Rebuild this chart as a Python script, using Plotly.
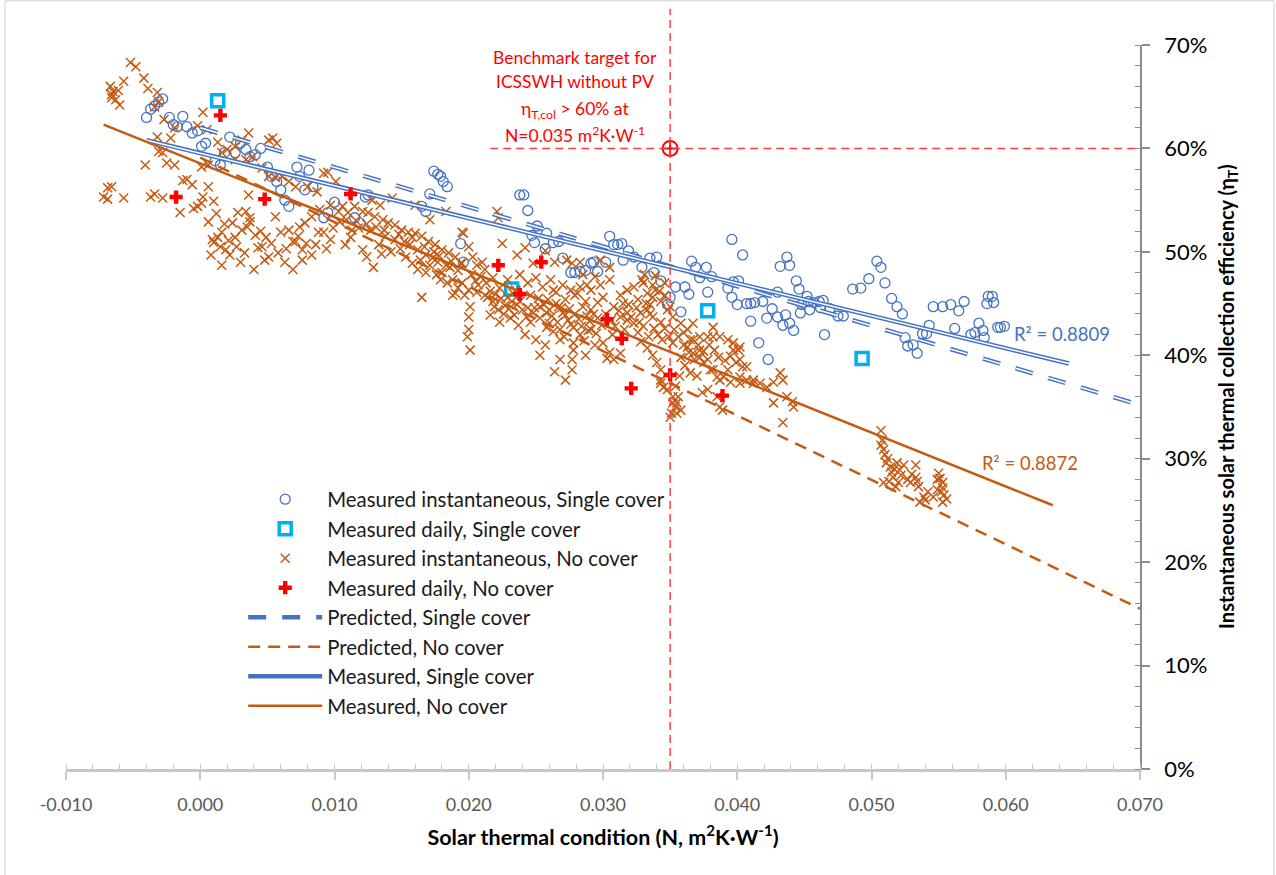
import plotly.graph_objects as go

BLUE = "#4472C4"
ORANGE = "#C55A11"
CYAN = "#00B0F0"
RED = "#FF0000"
FONT = "Lato"

# ---------------- data ----------------
# Measured instantaneous, Single cover  (N [m2K/W], efficiency)
inst_single = [
    (-0.0040, .630), (-0.0037, .638), (-0.0034, .641), (-0.0031, .645), (-0.0028, .648),
    (-0.0023, .630), (-0.0020, .623), (-0.0017, .621), (-0.0013, .631), (-0.0010, .621),
    (-0.0006, .615), (-0.0002, .617), (0.0001, .602), (0.0004, .605), (0.0011, .588),
    (0.0015, .584), (0.0018, .596), (0.0022, .611), (0.0026, .596), (0.0030, .605),
    (0.0034, .599), (0.0037, .592), (0.0041, .594), (0.0045, .600), (0.0050, .582),
    (0.0053, .573), (0.0057, .568), (0.0060, .560), (0.0063, .550), (0.0066, .544),
    (0.0072, .582), (0.0074, .573), (0.0078, .560), (0.0081, .579), (0.0084, .563),
    (0.0092, .533), (0.0095, .538), (0.0100, .548), (0.0115, .533), (0.0119, .528),
    (0.0123, .553), (0.0125, .555), (0.0165, .544), (0.0168, .539), (0.0171, .556),
    (0.0174, .578), (0.0177, .575), (0.0179, .573), (0.0181, .568), (0.0184, .563),
    (0.0194, .508), (0.0196, .490), (0.0238, .555), (0.0241, .555), (0.0244, .540),
    (0.0251, .525), (0.0247, .516), (0.0249, .509), (0.0258, .518), (0.0263, .509),
    (0.0257, .503), (0.0267, .510), (0.0270, .494), (0.0276, .480), (0.0279, .480),
    (0.0283, .481), (0.0287, .482), (0.0291, .489), (0.0293, .490), (0.0296, .481),
    (0.0302, .490), (0.0305, .515), (0.0308, .507), (0.0311, .507), (0.0314, .508),
    (0.0319, .501), (0.0315, .492), (0.0323, .495), (0.0329, .485), (0.0335, .494),
    (0.0340, .495), (0.0338, .480), (0.0343, .472), (0.0348, .449), (0.0350, .456),
    (0.0354, .466), (0.0361, .466), (0.0364, .459), (0.0358, .442), (0.0366, .491),
    (0.0369, .485), (0.0377, .485), (0.0372, .475), (0.0378, .461), (0.0396, .512),
    (0.0404, .497), (0.0381, .476), (0.0393, .465), (0.0397, .471), (0.0401, .472),
    (0.0396, .456), (0.0400, .449), (0.0407, .450), (0.0410, .450), (0.0413, .451),
    (0.0410, .433), (0.0416, .412), (0.0419, .452), (0.0422, .436), (0.0426, .445),
    (0.0430, .461), (0.0430, .437), (0.0432, .486), (0.0434, .429), (0.0436, .439),
    (0.0437, .495), (0.0439, .487), (0.0439, .431), (0.0442, .424), (0.0444, .472),
    (0.0446, .464), (0.0447, .441), (0.0448, .449), (0.0452, .457), (0.0453, .452),
    (0.0454, .444), (0.0457, .451), (0.0461, .452), (0.0464, .453), (0.0462, .446),
    (0.0465, .420), (0.0469, .445), (0.0475, .438), (0.0479, .438), (0.0423, .396),
    (0.0486, .464), (0.0492, .465), (0.0498, .474), (0.0504, .491), (0.0507, .485),
    (0.0510, .470), (0.0515, .455), (0.0519, .447), (0.0523, .440), (0.0525, .417),
    (0.0527, .409), (0.0531, .410), (0.0534, .402), (0.0538, .421), (0.0541, .421),
    (0.0543, .429), (0.0546, .447), (0.0553, .447), (0.0559, .449), (0.0565, .443),
    (0.0569, .452), (0.0562, .426), (0.0574, .420), (0.0577, .422), (0.0580, .431),
    (0.0583, .424), (0.0584, .417), (0.0586, .450), (0.0587, .457), (0.0590, .457),
    (0.0591, .451), (0.0594, .427), (0.0596, .427), (0.0599, .428),
]

# Measured daily, Single cover
daily_single = [(0.0013, .646), (0.0232, .464), (0.0378, .443), (0.0493, .397)]

# Measured instantaneous, No cover
inst_none = [
    (-0.0052, .683), (-0.0048, .679), (-0.0042, .668), (-0.0057, .665), (-0.0067, .660),
    (-0.0065, .655), (-0.0061, .656), (-0.0066, .652), (-0.0063, .647), (-0.0060, .642),
    (-0.0066, .649), (-0.0039, .658), (-0.0032, .654), (-0.0031, .645), (-0.0034, .640),
    (-0.0027, .628), (0.0002, .635), (-0.0032, .611), (-0.0022, .610), (-0.0031, .597),
    (-0.0028, .596), (-0.0041, .584), (-0.0025, .586), (-0.0019, .584), (-0.0066, .563),
    (-0.0069, .562), (-0.0072, .553), (-0.0069, .551), (-0.0057, .552), (-0.0037, .553),
    (-0.0034, .556), (-0.0028, .552), (-0.0013, .569), (-0.0010, .570), (-0.0006, .565),
    (-0.0015, .538), (-0.0005, .542), (-0.0002, .544), (-0.0002, .622), (0.0005, .618),
    (-0.0019, .620),
    (0.0002, .553), (0.0006, .563), (0.0001, .547), (0.0010, .549), (0.0006, .529),
    (0.0009, .512), (0.0013, .514), (0.0016, .519), (0.0010, .509), (0.0015, .505),
    (0.0019, .502), (0.0022, .497), (0.0016, .487), (0.0026, .514), (0.0024, .528),
    (0.0028, .538), (0.0034, .539), (0.0037, .529), (0.0035, .524), (0.0031, .521),
    (0.0041, .516), (0.0043, .504), (0.0046, .505), (0.0051, .495), (0.0058, .499),
    (0.0040, .483), (0.0060, .519), (0.0056, .534), (0.0069, .510), (0.0071, .510),
    (0.0073, .515), (0.0076, .502), (0.0076, .492), (0.0074, .524), (0.0078, .528),
    (0.0083, .534), (0.0088, .519), (0.0092, .519), (0.0001, .582), (0.0006, .584),
    (0.0013, .606), (0.0016, .596), (0.0020, .599), (0.0026, .602), (0.0031, .608),
    (0.0036, .615), (0.0026, .589), (0.0034, .589), (0.0039, .592), (0.0051, .608),
    (0.0054, .610), (0.0057, .605), (0.0046, .581), (0.0051, .573), (0.0056, .572),
    (0.0061, .573), (0.0066, .568), (0.0071, .563), (0.0080, .563), (0.0087, .558),
    (0.0092, .576), (0.0095, .577), (0.0101, .568), (0.0036, .555), (0.0037, .533),
    (0.0012, .537), (0.0018, .527), (0.0021, .511), (0.0027, .505), (0.0033, .499),
    (0.0045, .520), (0.0049, .514), (0.0053, .508), (0.0064, .503), (0.0066, .521),
    (0.0079, .508), (0.0083, .497), (0.0094, .503), (0.0099, .523), (0.0008, .497),
    (0.0030, .490), (0.0048, .492),
    (0.0106, .544), (0.0110, .538), (0.0115, .544), (0.0121, .539), (0.0125, .538),
    (0.0130, .534), (0.0136, .531), (0.0140, .528), (0.0145, .526), (0.0150, .521),
    (0.0155, .519), (0.0160, .518), (0.0165, .515), (0.0170, .510), (0.0175, .507),
    (0.0180, .502), (0.0185, .499), (0.0190, .495), (0.0195, .489), (0.0121, .502),
    (0.0124, .495), (0.0129, .485), (0.0153, .495), (0.0158, .489), (0.0162, .483),
    (0.0168, .480), (0.0180, .480), (0.0188, .473), (0.0195, .470), (0.0200, .463),
    (0.0190, .460), (0.0165, .456), (0.0200, .437), (0.0200, .425), (0.0201, .405),
    (0.0156, .507), (0.0162, .502), (0.0168, .497), (0.0173, .494), (0.0177, .490),
    (0.0183, .487), (0.0186, .485), (0.0171, .487), (0.0164, .492), (0.0145, .512),
    (0.0138, .515), (0.0133, .507), (0.0142, .500), (0.0118, .523), (0.0127, .521),
    (0.0104, .529), (0.0097, .512), (0.0108, .507), (0.0113, .521), (0.0089, .541),
    (0.0097, .545), (0.0086, .507), (0.0063, .490), (0.0069, .483), (0.0195, .519),
    (0.0128, .550), (0.0134, .545), (0.0143, .552), (0.0160, .545), (0.0183, .539),
    (0.0171, .531),
    (0.0103, .539), (0.0109, .531), (0.0116, .530), (0.0124, .527), (0.0131, .524),
    (0.0137, .521), (0.0148, .517), (0.0152, .510), (0.0158, .514), (0.0167, .505),
    (0.0174, .500), (0.0178, .496), (0.0187, .491), (0.0192, .482), (0.0176, .478),
    (0.0149, .503), (0.0135, .498), (0.0112, .514),
    (0.0196, .518), (0.0200, .505), (0.0194, .489), (0.0203, .495), (0.0206, .487),
    (0.0210, .490), (0.0225, .508), (0.0236, .497), (0.0242, .504), (0.0248, .489),
    (0.0257, .501), (0.0264, .490), (0.0273, .492), (0.0277, .489), (0.0283, .490),
    (0.0298, .492), (0.0305, .485), (0.0179, .473), (0.0184, .470), (0.0188, .458),
    (0.0192, .465), (0.0197, .458), (0.0201, .447), (0.0199, .418), (0.0214, .456),
    (0.0218, .452), (0.0222, .444), (0.0229, .456), (0.0232, .452), (0.0238, .452),
    (0.0244, .446), (0.0248, .441), (0.0253, .436), (0.0258, .427), (0.0263, .423),
    (0.0266, .432), (0.0253, .447), (0.0258, .441), (0.0267, .447), (0.0270, .441),
    (0.0274, .434), (0.0278, .427), (0.0281, .460), (0.0283, .466), (0.0287, .452),
    (0.0291, .444), (0.0296, .451), (0.0300, .456), (0.0308, .447), (0.0313, .437),
    (0.0318, .434), (0.0323, .431), (0.0328, .441), (0.0333, .444), (0.0337, .437),
    (0.0343, .432), (0.0330, .470), (0.0329, .473), (0.0323, .466), (0.0318, .463),
    (0.0333, .460), (0.0337, .456), (0.0343, .452), (0.0348, .444), (0.0278, .405),
    (0.0277, .396), (0.0277, .386), (0.0278, .412), (0.0300, .412), (0.0305, .403),
    (0.0303, .397), (0.0308, .396), (0.0313, .402), (0.0328, .413), (0.0333, .407),
    (0.0337, .400), (0.0340, .393), (0.0343, .386), (0.0343, .376), (0.0345, .369),
    (0.0348, .367), (0.0352, .360), (0.0354, .350), (0.0355, .344), (0.0358, .398),
    (0.0363, .408), (0.0367, .415), (0.0372, .418), (0.0378, .418), (0.0382, .418),
    (0.0387, .418), (0.0393, .415), (0.0397, .412), (0.0401, .405), (0.0402, .396),
    (0.0404, .389), (0.0358, .431), (0.0363, .425), (0.0367, .402), (0.0372, .398),
    (0.0375, .393), (0.0380, .386), (0.0385, .379), (0.0390, .379), (0.0395, .374),
    (0.0402, .373), (0.0407, .376), (0.0412, .373), (0.0378, .367), (0.0385, .360),
    (0.0352, .437), (0.0350, .447), (0.0367, .431), (0.0382, .427), (0.0352, .354),
    (0.0356, .360), (0.0350, .340), (0.0358, .347), (0.0221, .539), (0.0222, .533),
    (0.0238, .478), (0.0244, .470), (0.0250, .475), (0.0255, .466), (0.0261, .473),
    (0.0265, .461), (0.0270, .468), (0.0235, .463), (0.0229, .473), (0.0223, .465),
    (0.0218, .475), (0.0212, .483), (0.0207, .468), (0.0246, .458), (0.0259, .454),
    (0.0272, .454), (0.0279, .458), (0.0291, .463), (0.0298, .468), (0.0305, .473),
    (0.0313, .458), (0.0319, .449), (0.0326, .454), (0.0335, .449), (0.0339, .463),
    (0.0346, .458), (0.0216, .439), (0.0223, .432), (0.0231, .436), (0.0237, .429),
    (0.0242, .420), (0.0250, .415), (0.0257, .410), (0.0268, .415), (0.0283, .420),
    (0.0291, .425), (0.0294, .410), (0.0287, .400), (0.0268, .396), (0.0264, .384),
    (0.0272, .376), (0.0253, .400),
    (0.0202, .478), (0.0205, .472), (0.0209, .476), (0.0213, .470), (0.0216, .462),
    (0.0220, .459), (0.0224, .455), (0.0227, .448), (0.0230, .445), (0.0233, .460),
    (0.0236, .449), (0.0240, .444), (0.0243, .437), (0.0246, .432), (0.0249, .446),
    (0.0212, .458), (0.0206, .461), (0.0219, .447), (0.0226, .440), (0.0234, .439),
    (0.0252, .455), (0.0256, .449), (0.0260, .444), (0.0262, .438), (0.0265, .450),
    (0.0269, .446), (0.0272, .439), (0.0275, .445), (0.0279, .440), (0.0282, .435),
    (0.0285, .447), (0.0288, .438), (0.0290, .433), (0.0293, .440), (0.0296, .436),
    (0.0299, .429), (0.0284, .428), (0.0276, .430), (0.0268, .425), (0.0260, .431),
    (0.0289, .424), (0.0295, .421), (0.0271, .418), (0.0286, .414), (0.0263, .463),
    (0.0276, .463), (0.0288, .468), (0.0294, .476), (0.0285, .478),
    (0.0302, .440), (0.0306, .434), (0.0309, .428), (0.0312, .443), (0.0315, .450),
    (0.0318, .441), (0.0321, .437), (0.0325, .446), (0.0327, .432), (0.0330, .428),
    (0.0332, .450), (0.0335, .440), (0.0338, .426), (0.0341, .420), (0.0344, .415),
    (0.0346, .426), (0.0349, .418), (0.0334, .418), (0.0326, .422), (0.0316, .425),
    (0.0307, .420), (0.0337, .468), (0.0342, .462), (0.0346, .470), (0.0331, .478),
    (0.0339, .477),
    (0.0352, .412), (0.0360, .422), (0.0365, .415), (0.0372, .405), (0.0378, .396),
    (0.0382, .386), (0.0387, .376), (0.0393, .386), (0.0397, .405), (0.0402, .408),
    (0.0407, .389), (0.0402, .379), (0.0412, .376), (0.0417, .373), (0.0422, .369),
    (0.0427, .374), (0.0432, .383), (0.0434, .376), (0.0437, .360), (0.0441, .355),
    (0.0442, .350), (0.0434, .335), (0.0427, .354), (0.0387, .350), (0.0389, .347),
    (0.0343, .373), (0.0351, .344), (0.0355, .354), (0.0374, .364),
    (0.0353, .425), (0.0356, .418), (0.0360, .410), (0.0364, .403), (0.0368, .396),
    (0.0371, .410), (0.0375, .404), (0.0379, .410), (0.0383, .405), (0.0386, .398),
    (0.0391, .395), (0.0395, .399), (0.0399, .393), (0.0361, .390), (0.0365, .383),
    (0.0370, .380), (0.0357, .380), (0.0354, .370),
    (0.0507, .327), (0.0507, .313), (0.0509, .309), (0.0510, .304), (0.0512, .300),
    (0.0511, .296), (0.0514, .292), (0.0515, .287), (0.0516, .282), (0.0513, .278),
    (0.0519, .296), (0.0521, .289), (0.0524, .294), (0.0520, .277), (0.0518, .273),
    (0.0509, .277), (0.0527, .280), (0.0529, .277), (0.0533, .282), (0.0534, .278),
    (0.0533, .294), (0.0535, .273), (0.0536, .258), (0.0539, .263), (0.0542, .268),
    (0.0546, .263), (0.0549, .270), (0.0550, .286), (0.0551, .281), (0.0553, .277),
    (0.0553, .272), (0.0554, .265), (0.0556, .261), (0.0553, .258), (0.0549, .280),
    (0.0522, .284), (0.0517, .290), (0.0530, .285), (0.0540, .260), (0.0552, .268),
    (0.0508, .318),
]

# Measured daily, No cover
daily_none = [
    (0.0015, .632), (-0.0018, .553), (0.0048, .551), (0.0112, .556), (0.0222, .487),
    (0.0254, .490), (0.0238, .459), (0.0303, .435), (0.0314, .416), (0.0350, .381),
    (0.0321, .368), (0.0389, .361),
]

# Trend lines (end points)
pred_single_N = [0.0, 0.070]
pred_single_eta = [0.620, 0.352]
pred_none_N = [0.0, 0.070]
pred_none_eta = [0.591, 0.155]
meas_single_N = [-0.0040, 0.0647]
meas_single_eta = [0.608, 0.392]
meas_none_N = [-0.0072, 0.0635]
meas_none_eta = [0.623, 0.255]

# Benchmark target
bench_N = 0.035
bench_eta = 0.60
bench_line_start = 0.0216
bench_text = [
    "Benchmark target for",
    "ICSSWH without PV",
    "η<sub>T,col</sub> &gt; 60% at",
    "N=0.035 m<sup>2</sup>K·W<sup>-1</sup>",
]
bench_text_N = 0.0279
bench_text_eta = [0.6876, 0.6644, 0.6373, 0.6132]

x_ticks = [-0.010, 0.000, 0.010, 0.020, 0.030, 0.040, 0.050, 0.060, 0.070]
x_tick_labels = ["-0.010", "0.000", "0.010", "0.020", "0.030", "0.040", "0.050", "0.060", "0.070"]
y_ticks = [0.0, 0.1, 0.2, 0.3, 0.4, 0.5, 0.6, 0.7]


def unzip(pairs):
    return [p[0] for p in pairs], [p[1] for p in pairs]


fig = go.Figure()

# ---------------- traces ----------------
x, y = unzip(daily_single)
fig.add_trace(go.Scatter(
    x=x, y=y, mode="markers", name="Measured daily, Single cover", legendrank=2,
    marker=dict(symbol="square-open", size=12, color=CYAN, line=dict(width=3.5, color=CYAN)),
))
x, y = unzip(inst_single)
fig.add_trace(go.Scatter(
    x=x, y=y, mode="markers", name="Measured instantaneous, Single cover", legendrank=1,
    marker=dict(symbol="circle-open", size=10, color=BLUE, line=dict(width=1.3, color=BLUE)),
))
x, y = unzip(inst_none)
fig.add_trace(go.Scatter(
    x=x, y=y, mode="markers", name="Measured instantaneous, No cover", legendrank=3,
    marker=dict(symbol="x-thin-open", size=9, color=ORANGE, line=dict(width=1.5, color=ORANGE)),
))

# Predicted, Single cover (double dashed line)
fig.add_trace(go.Scatter(
    x=pred_single_N, y=pred_single_eta, mode="lines", name="Predicted, Single cover", legendrank=5,
    line=dict(color=BLUE, width=4.5, dash="18px,16px"),
))
fig.add_trace(go.Scatter(
    x=pred_single_N, y=pred_single_eta, mode="lines", showlegend=False,
    hoverinfo="skip", line=dict(color="white", width=1.5, dash="18px,16px"),
))
# Predicted, No cover
fig.add_trace(go.Scatter(
    x=pred_none_N, y=pred_none_eta, mode="lines", name="Predicted, No cover", legendrank=6,
    line=dict(color=ORANGE, width=2.5, dash="12px,8px"),
))
# Measured, Single cover (double line)
fig.add_trace(go.Scatter(
    x=meas_single_N, y=meas_single_eta, mode="lines", name="Measured, Single cover", legendrank=7,
    line=dict(color=BLUE, width=4.5),
))
fig.add_trace(go.Scatter(
    x=meas_single_N, y=meas_single_eta, mode="lines", showlegend=False,
    hoverinfo="skip", line=dict(color="white", width=1.5),
))
# Measured, No cover
fig.add_trace(go.Scatter(
    x=meas_none_N, y=meas_none_eta, mode="lines", name="Measured, No cover", legendrank=8,
    line=dict(color=ORANGE, width=2.5),
))

x, y = unzip(daily_none)
fig.add_trace(go.Scatter(
    x=x, y=y, mode="markers", name="Measured daily, No cover", legendrank=4,
    marker=dict(symbol="cross", size=11, color=RED, line=dict(width=0)),
))

# Benchmark target point
fig.add_trace(go.Scatter(
    x=[bench_N], y=[bench_eta], mode="markers", showlegend=False, hoverinfo="skip",
    marker=dict(symbol="circle-cross-open", size=15, color=RED, line=dict(width=2, color=RED)),
))

# ---------------- shapes ----------------
RED_DASH = "#FF4040"
shapes = [
    dict(type="line", xref="x", yref="paper", x0=bench_N, x1=bench_N, y0=0, y1=1.05,
         line=dict(color=RED_DASH, width=1.5, dash="8px,5px"), layer="above"),
    dict(type="line", xref="x", yref="y", x0=bench_line_start, x1=0.070, y0=bench_eta, y1=bench_eta,
         line=dict(color=RED_DASH, width=1.5, dash="8px,5px"), layer="above"),
    dict(type="rect", xref="paper", yref="paper", x0=-0.0568, x1=1.1248, y0=-0.16, y1=1.061,
         line=dict(color="#D0D0D0", width=1), layer="below"),
]

annotations = [
    dict(xref="x", yref="y", x=bench_text_N, y=yy, showarrow=False, align="center",
         text=t, font=dict(family=FONT, size=17.5, color=RED))
    for t, yy in zip(bench_text, bench_text_eta)
]
annotations += [
    dict(xref="x", yref="y", x=0.0642, y=0.421, showarrow=False,
         text="R² = 0.8809", font=dict(family=FONT, size=18.5, color=BLUE)),
    dict(xref="x", yref="y", x=0.0618, y=0.296, showarrow=False,
         text="R² = 0.8872", font=dict(family=FONT, size=18.5, color=ORANGE)),
    dict(xref="paper", yref="paper", x=1.082, y=0.514, showarrow=False, textangle=-90,
         xanchor="center", yanchor="middle",
         text="<b>Instantaneous solar thermal collection efficiency (η<sub>T</sub>)</b>",
         font=dict(family=FONT, size=20, color="black")),
]

AX_LIGHT = "#C8C8C8"
AX_DARK = "#8C8C8C"

fig.update_layout(
    width=1276, height=875,
    margin=dict(l=66, r=136, t=45, b=106),
    paper_bgcolor="white", plot_bgcolor="white",
    font=dict(family=FONT, color="#1A1A1A"),
    shapes=shapes, annotations=annotations,
    showlegend=True,
    legend=dict(
        x=0.165, y=0.400, xanchor="left", yanchor="top",
        bgcolor="rgba(0,0,0,0)", font=dict(family=FONT, size=20.4, color="#1A1A1A"),
        itemwidth=74, traceorder="normal",
    ),
    xaxis=dict(
        range=[-0.010, 0.070], tickvals=x_ticks, ticktext=x_tick_labels,
        showgrid=False, zeroline=False,
        showline=True, linecolor=AX_LIGHT, linewidth=2.5,
        ticks="outside", ticklen=8, tickwidth=1.5, tickcolor=AX_LIGHT,
        minor=dict(ticks="inside", ticklen=5, dtick=0.002, tickcolor=AX_LIGHT, tickwidth=1.2),
        tickfont=dict(family=FONT, size=18, color="#595959"),
        ticklabelstandoff=10,
        title=dict(text="<b>Solar thermal condition (N, m<sup>2</sup>K·W<sup>-1</sup>)</b>",
                   font=dict(family=FONT, size=21.5, color="black"), standoff=16),
        layer="below traces",
    ),
    xaxis2=dict(
        range=[-0.010, 0.070], overlaying="x", anchor="y", side="bottom",
        tickvals=x_ticks, showticklabels=False, showgrid=False, zeroline=False, showline=False,
        ticks="inside", ticklen=7, tickwidth=1.5, tickcolor=AX_LIGHT, layer="below traces",
    ),
    yaxis=dict(
        range=[0, 0.7], tickvals=y_ticks, tickformat=".0%", side="right", anchor="x",
        showgrid=False, zeroline=False,
        showline=True, linecolor=AX_DARK, linewidth=1.5,
        ticks="outside", ticklen=8, tickwidth=1.5, tickcolor=AX_DARK,
        minor=dict(ticks="inside", ticklen=5, dtick=0.02, tickcolor=AX_DARK, tickwidth=1.2),
        tickfont=dict(family=FONT, size=22, color="black"),
        ticklabelstandoff=10,
        layer="below traces",
    ),
    yaxis2=dict(
        range=[0, 0.7], tickvals=y_ticks, overlaying="y", anchor="free", position=0.125, side="left",
        showticklabels=False, showgrid=False, zeroline=False,
        showline=True, linecolor=AX_LIGHT, linewidth=2.5,
        ticks="outside", ticklen=6, tickwidth=1.5, tickcolor=AX_LIGHT,
        minor=dict(ticks="inside", ticklen=5, dtick=0.02, tickcolor=AX_LIGHT, tickwidth=1.2),
        layer="below traces",
    ),
    yaxis3=dict(
        range=[0, 0.7], tickvals=y_ticks, overlaying="y", anchor="free", position=0.125, side="left",
        showticklabels=False, showgrid=False, zeroline=False, showline=False,
        ticks="inside", ticklen=6, tickwidth=1.5, tickcolor=AX_LIGHT, layer="below traces",
    ),
    yaxis4=dict(
        range=[0, 0.7], tickvals=y_ticks, overlaying="y", anchor="x", side="right",
        showticklabels=False, showgrid=False, zeroline=False, showline=False,
        ticks="inside", ticklen=7, tickwidth=1.5, tickcolor=AX_DARK, layer="below traces",
    ),
)

fig.write_html("out.html")
